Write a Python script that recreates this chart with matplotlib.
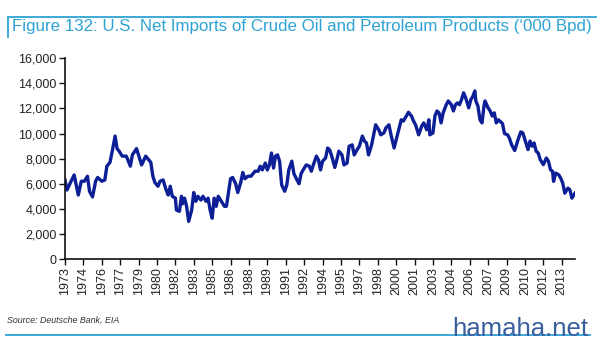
import matplotlib
matplotlib.use("Agg")
import matplotlib.pyplot as plt
import matplotlib.dates as mdates
from matplotlib.lines import Line2D
from matplotlib.ticker import FuncFormatter
import pandas as pd

# net imports, '000 bpd (roughly every 2-3 months)
fechas = [
    "1973-01", "1973-03", "1973-07", "1973-10", "1974-02", "1974-05", "1974-08", "1974-11",
    "1975-01", "1975-04", "1975-07", "1975-09", "1976-01", "1976-04", "1976-06", "1976-09",
    "1976-11", "1977-02", "1977-04", "1977-06", "1977-09", "1978-01", "1978-02", "1978-05",
    "1978-07", "1978-11", "1979-02", "1979-04", "1979-08", "1979-10", "1980-01", "1980-03",
    "1980-05", "1980-08", "1980-10", "1981-01", "1981-04", "1981-06", "1981-08", "1981-10",
    "1982-01", "1982-02", "1982-05", "1982-07", "1982-08", "1982-10", "1982-12", "1983-02",
    "1983-05", "1983-07", "1983-09", "1983-11", "1984-02", "1984-04", "1984-07", "1984-09",
    "1984-11", "1985-01", "1985-03", "1985-05", "1985-07", "1985-10", "1986-01", "1986-03",
    "1986-05", "1986-07", "1986-09", "1986-12", "1987-02", "1987-05", "1987-07", "1987-09",
    "1987-12", "1988-03", "1988-07", "1988-10", "1988-12", "1989-02", "1989-05", "1989-07",
    "1989-09", "1989-11", "1990-01", "1990-03", "1990-05", "1990-07", "1990-09", "1990-12",
    "1991-02", "1991-04", "1991-07", "1991-09", "1991-12", "1992-02", "1992-04", "1992-06",
    "1992-09", "1992-12", "1993-02", "1993-04", "1993-07", "1993-09", "1993-11", "1994-01",
    "1994-04", "1994-06", "1994-08", "1994-10", "1995-01", "1995-03", "1995-05", "1995-08",
    "1995-10", "1996-01", "1996-03", "1996-06", "1996-08", "1996-10", "1997-01", "1997-04",
    "1997-06", "1997-08", "1997-10", "1998-01", "1998-03", "1998-05", "1998-08", "1998-10",
    "1999-01", "1999-03", "1999-06", "1999-08", "1999-11", "2000-01", "2000-04", "2000-06",
    "2000-08", "2000-11", "2001-01", "2001-04", "2001-06", "2001-08", "2001-11", "2002-02",
    "2002-04", "2002-07", "2002-09", "2002-10", "2003-01", "2003-03", "2003-05", "2003-07",
    "2003-09", "2003-11", "2004-02", "2004-04", "2004-07", "2004-09", "2004-11", "2005-01",
    "2005-03", "2005-05", "2005-07", "2005-09", "2005-12", "2006-02", "2006-04", "2006-06",
    "2006-07", "2006-09", "2006-11", "2007-01", "2007-03", "2007-04", "2007-07", "2007-09",
    "2007-11", "2008-01", "2008-03", "2008-05", "2008-09", "2008-11", "2009-02", "2009-04",
    "2009-06", "2009-09", "2009-12", "2010-03", "2010-05", "2010-08", "2010-10", "2010-12",
    "2011-02", "2011-04", "2011-06", "2011-08", "2011-10", "2012-01", "2012-04", "2012-06",
    "2012-08", "2012-10", "2012-11", "2013-01", "2013-04", "2013-06", "2013-08", "2013-10",
    "2014-01", "2014-03", "2014-05", "2014-07", "2014-08",
]
importacoes = [
    6300, 5500, 6200, 6700, 5100, 6200, 6200, 6600,
    5400, 4950, 6200, 6500, 6200, 6300, 7400, 7700,
    8500, 9800, 8800, 8600, 8200, 8200, 8000, 7400,
    8300, 8800, 8000, 7500, 8200, 8000, 7700, 6600,
    6100, 5800, 6200, 6300, 5500, 5100, 5800, 5000,
    4850, 3900, 3800, 5000, 4400, 4850, 4200, 3000,
    3900, 5300, 4600, 5000, 4700, 5000, 4600, 4850,
    3900, 3250, 4850, 4200, 5000, 4600, 4200, 4200,
    5300, 6400, 6500, 6000, 5300, 6100, 6900, 6400,
    6600, 6600, 7000, 7000, 7400, 7100, 7650, 7100,
    7500, 8450, 7250, 8200, 8300, 7800, 5900, 5400,
    5900, 7100, 7800, 6800, 6300, 6000, 6800, 7100,
    7500, 7400, 7000, 7500, 8200, 7900, 7100, 7800,
    8050, 8850, 8700, 8200, 7300, 7900, 8600, 8300,
    7500, 7650, 8990, 9100, 8300, 8600, 9000, 9800,
    9400, 9250, 8300, 9100, 9900, 10700, 10300, 9900,
    10050, 10450, 10700, 9900, 8850, 9500, 10450, 11100,
    11000, 11400, 11700, 11400, 11000, 10700, 9900, 10600,
    10850, 10300, 11100, 9900, 10050, 11400, 11800, 11650,
    10850, 11650, 12300, 12600, 12300, 11800, 12300, 12450,
    12300, 12700, 13250, 12850, 12050, 12700, 12950, 13400,
    12600, 12200, 11100, 10850, 12200, 12600, 12050, 11800,
    11400, 11650, 10850, 11100, 10800, 10000, 9900, 9600,
    9100, 8650, 9450, 10130, 10050, 9250, 8720, 9400,
    8990, 9250, 8590, 8450, 7920, 7520, 8050, 7790,
    7120, 6990, 6190, 6850, 6720, 6450, 6050, 5250,
    5650, 5520, 4850, 5120, 5250,
]
ticks_y = [0, 2000, 4000, 6000, 8000, 10000, 12000, 14000, 16000]

titulo = "Figure 132: U.S. Net Imports of Crude Oil and Petroleum Products (\u2018000 Bpd)"
fonte = "Source: Deutsche Bank, EIA"

AZUL_CLARO = "#2ea3d3"
AZUL_LINHA = "#0c1f96"

plt.rcParams["font.family"] = ["Liberation Sans", "DejaVu Sans"]

datas = pd.to_datetime(fechas, format="%Y-%m")

fig = plt.figure(figsize=(6.0, 3.42), dpi=100)
W, H = 600, 342

# moldura azul clara (topo e base)
fig.add_artist(Line2D([8 / W, 596 / W], [1 - 17 / H, 1 - 17 / H], color=AZUL_CLARO, lw=1.3))
fig.add_artist(Line2D([8 / W, 8 / W], [1 - 17 / H, 1 - 37 / H], color=AZUL_CLARO, lw=1.3))
fig.add_artist(Line2D([6 / W, 590 / W], [1 - 335 / H, 1 - 335 / H], color=AZUL_CLARO, lw=1.3))

fig.text(12 / W, 1 - 27 / H, titulo, color=AZUL_CLARO, fontsize=12.2, va="center", ha="left")
fig.text(7 / W, 1 - 320 / H, fonte, color="#333333", fontsize=6.4, style="italic",
         va="center", ha="left")
fig.text(452 / W, 1 - 336 / H, "hamaha.net", color="#3a5f9e", fontsize=18.5,
         va="baseline", ha="left")

ax = fig.add_axes([65 / W, 1 - 259 / H, 510 / W, 200.7 / H])
ax.plot(datas, importacoes, color=AZUL_LINHA, lw=2.4, solid_joinstyle="round")

ax.set_ylim(0, 16000)
ax.set_yticks(ticks_y)
ax.yaxis.set_major_formatter(FuncFormatter(lambda v, p: f"{int(v):,}"))

ax.set_xlim(datas[0], datas[-1])
ticks_x = pd.date_range("1973-01-01", "2013-07-01", freq="18MS")
ax.set_xticks(ticks_x)
ax.xaxis.set_major_formatter(mdates.DateFormatter("%Y"))
plt.setp(ax.get_xticklabels(), rotation=90)

for lado in ["top", "right"]:
    ax.spines[lado].set_visible(False)
for lado in ["left", "bottom"]:
    ax.spines[lado].set_linewidth(1.2)
    ax.spines[lado].set_color("#111111")
ax.tick_params(axis="both", labelsize=9, colors="#111111", length=4, width=1.0, pad=2)
ax.tick_params(axis="both", labelcolor="#222222")

fig.savefig("out.png", dpi=100)
